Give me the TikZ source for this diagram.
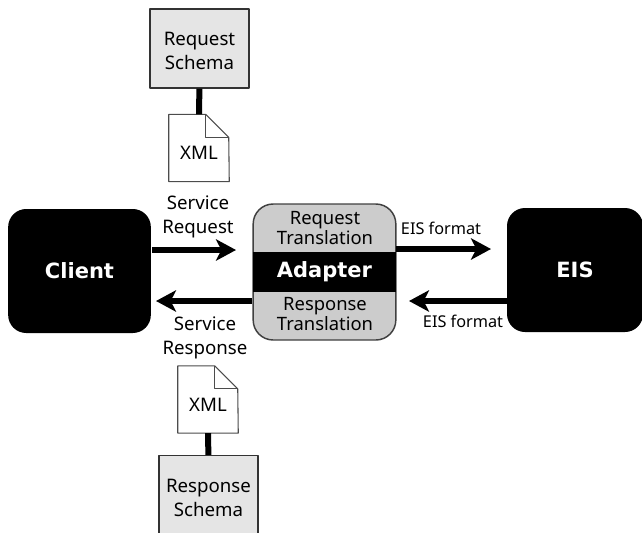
\documentclass[tikz,border=0pt]{standalone}
\usepackage{fontspec}
\setmainfont{Noto Sans}
\newfontfamily\heavyfont{DejaVu Sans Bold}
\usetikzlibrary{arrows.meta}
\tikzset{
	blackbox/.style={fill=black,text=white,font=\fontsize{15.75pt}{20pt}\heavyfont,rounded corners=13.5pt,minimum width=107pt,minimum height=93pt},
	schema/.style={draw=black!80,line width=1.1pt,fill=black!10,minimum width=74pt,minimum height=59pt},
	docpage/.style={minimum width=45pt,minimum height=50pt,inner sep=0pt},
	label/.style={align=center,font=\fontsize{14pt}{18pt}\selectfont,inner sep=0pt},
	small/.style={font=\fontsize{12.2pt}{13pt}\selectfont,inner sep=0pt},
	trans/.style={align=center,font=\fontsize{13.8pt}{15.7pt}\selectfont,inner sep=0pt},
	flow/.style={line width=5pt,-{Stealth[length=15pt,width=16pt,inset=4pt]}},
	stem/.style={line width=4.5pt}
}
\begin{document}
\begin{tikzpicture}[x=0.75pt,y=-0.75pt,line join=round]
	\useasboundingbox (0,0) rectangle (642,532);
	\node[blackbox] (client) at (79.5,271) {Client};
	\node[blackbox,minimum width=102pt] (eis) at (575,270) {EIS};
	\node[draw=black!75,line width=1.1pt,fill=black!20,rounded corners=15pt,minimum width=107pt,minimum height=102pt] (adapter) at (324.5,272) {};
	\node[fill=black,text=white,font=\fontsize{15.75pt}{20pt}\heavyfont,minimum width=107pt,minimum height=30pt,inner sep=0pt] (adapterband) at (324.5,272) {Adapter};
	\node[trans] (reqtrans) at (325,228) {Request\\Translation};
	\node[trans] (resptrans) at (325,314) {Response\\Translation};
	\node[schema] (reqschema) at (199.5,48.5) {};
	\node[schema] (respschema) at (208.5,495) {};
	\node[label] (reqschematext) at (199.5,50.5) {Request\\Schema};
	\node[label] (respschematext) at (208.5,498) {Response\\Schema};
	\node[docpage] (reqxml) at (199,148) {};
	\node[docpage] (respxml) at (208,399.5) {};
	\foreach \x in {reqxml,respxml}{
		\draw[black!70,line width=.8pt,fill=white] (\x.north west) -- ++(37,0) -- ++(23,23) -- (\x.south east) -- (\x.south west) -- cycle;
		\draw[black!70,line width=.8pt] ([xshift=27.75pt]\x.north west) |- ([yshift=-17.25pt]\x.north east);
	}
	\node[label] (reqxmltext) at (199,153) {XML};
	\node[label] (respxmltext) at (208,405) {XML};
	\draw[stem] (reqschema) -- (reqxml);
	\draw[stem] (respschema) -- (respxml);
	\path
	(152,250) coordinate (A)
	(236,250) coordinate (B)
	(396,249) coordinate (C)
	(491,249) coordinate (D)
	(507,301) coordinate (E)
	(409,301) coordinate (F)
	(252,301) coordinate (G)
	(156,301) coordinate (H)
	;
	\draw[flow] (A)--(B);
	\draw[flow] (C)--(D);
	\draw[flow] (E)--(F);
	\draw[flow] (G)--(H);
	\node[label] (svcreq) at (198,217) {Service\\Request};
	\node[label] (svcresp) at (205,337.5) {Service\\Response};
	\node[small] (eisout) at (441,228) {EIS format};
	\node[small] (eisin) at (463,321) {EIS format};
\end{tikzpicture}
\end{document}
